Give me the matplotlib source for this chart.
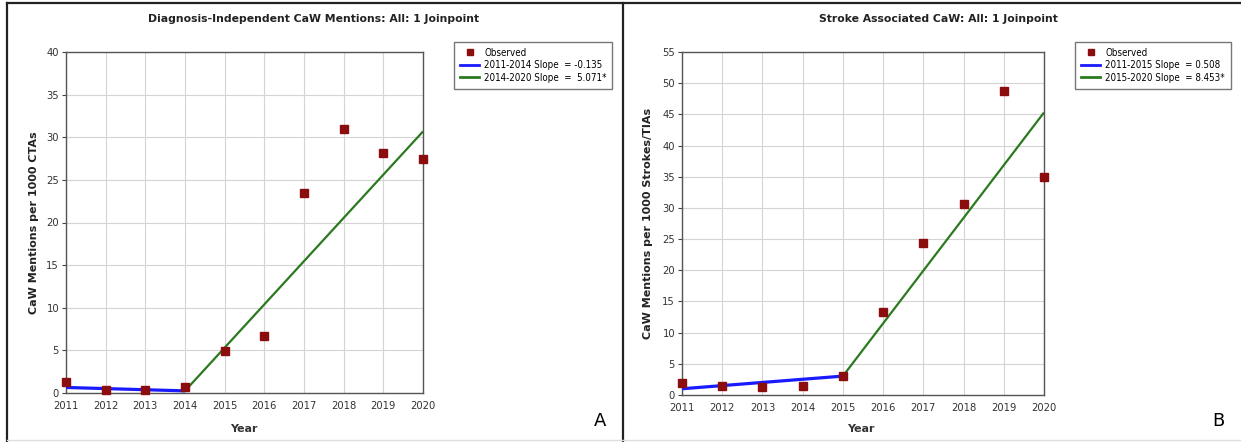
import matplotlib
matplotlib.use("Agg")
import matplotlib.pyplot as plt
from matplotlib.lines import Line2D
from matplotlib.font_manager import FontProperties

# data
years = [2011, 2012, 2013, 2014, 2015, 2016, 2017, 2018, 2019, 2020]
obs_a = [1.3, 0.4, 0.4, 0.7, 4.9, 6.7, 23.5, 31.0, 28.1, 27.4]
obs_b = [1.9, 1.5, 1.3, 1.4, 3.1, 13.3, 24.3, 30.6, 48.8, 34.9]

# joinpoint fit segments (endpoints)
fit1_a_x = [2011, 2014]
fit1_a_y = [0.65, 0.25]
fit2_a_x = [2014, 2020]
fit2_a_y = [0.25, 30.68]
fit1_b_x = [2011, 2015]
fit1_b_y = [1.0, 3.03]
fit2_b_x = [2015, 2020]
fit2_b_y = [3.03, 45.3]

labels_a = ["Observed", "2011-2014 Slope  = -0.135", "2014-2020 Slope  =  5.071*"]
labels_b = ["Observed", "2011-2015 Slope  = 0.508", "2015-2020 Slope  = 8.453*"]

narrow_tick = FontProperties(family="DejaVu Sans", stretch="condensed", size=8)
narrow_leg = FontProperties(family="DejaVu Sans", stretch="condensed", size=7)

W, H = 1241, 442
fig = plt.figure(figsize=(W / 100, H / 100), dpi=100)

def fx(px):
    return px / W

def fy(py):
    return 1 - py / H

# panel borders
fig.add_artist(Line2D([fx(7), 1], [fy(3), fy(3)], color="#222222", lw=1.6))
fig.add_artist(Line2D([fx(7), fx(7)], [fy(3), fy(441)], color="#222222", lw=1.6))
fig.add_artist(Line2D([fx(623), fx(623)], [fy(3), 0], color="#222222", lw=1.6))
fig.add_artist(Line2D([fx(7), 1], [fy(440), fy(440)], color="#dddddd", lw=1))

red = "#8b0d0d"
blue = "#1a1aff"
green = "#2b7a1f"

def panel(rect, obs, f1x, f1y, f2x, f2y, labels, ymax, title, ylabel,
          title_x, ylab_x, year_x, leg_x0, letter, letter_x):
    ax = fig.add_axes(rect)
    ax.plot(f1x, f1y, color=blue, lw=2.3, zorder=3, solid_capstyle="butt")
    ax.plot(f2x, f2y, color=green, lw=1.6, zorder=3, solid_capstyle="butt")
    ax.plot(years, obs, ls="none", marker="s", ms=6.3, color=red, zorder=4,
            clip_on=False)
    ax.set_xlim(2011, 2020)
    ax.set_ylim(0, ymax)
    ax.set_xticks(years)
    ax.set_yticks(range(0, ymax + 1, 5))
    ax.grid(True, color="#d4d4d4", lw=0.8)
    ax.set_axisbelow(True)
    for s in ax.spines.values():
        s.set_color("#555555")
        s.set_linewidth(1.0)
    ax.tick_params(axis="both", colors="#444444", length=3, width=0.8, pad=2)
    ax.tick_params(axis="x", length=0, pad=6)
    for t in ax.get_xticklabels() + ax.get_yticklabels():
        t.set_fontproperties(narrow_tick)
        t.set_color("#333333")
    fig.text(fx(title_x), fy(19), title, ha="center", va="center",
             fontsize=7.8, fontweight="bold", color="#222222")
    fig.text(fx(ylab_x), fy(223), ylabel, ha="center", va="center",
             rotation=90, fontsize=8, fontweight="bold", color="#222222")
    fig.text(fx(year_x), fy(429), "Year", ha="center", va="center",
             fontsize=8, fontweight="bold", color="#333333")
    fig.text(fx(letter_x), fy(421), letter, ha="center", va="center",
             fontsize=13, color="black")
    handles = [
        Line2D([], [], ls="none", marker="s", ms=5, color=red),
        Line2D([], [], color=blue, lw=2),
        Line2D([], [], color=green, lw=2),
    ]
    leg = fig.legend(handles, labels, loc="upper left",
                     bbox_to_anchor=(fx(leg_x0), fy(42)),
                     prop=narrow_leg,
                     frameon=True, fancybox=False, borderpad=0.6,
                     handlelength=2.0, handletextpad=0.5, labelspacing=0.25,
                     borderaxespad=0)
    leg.get_frame().set_edgecolor("#555555")
    leg.get_frame().set_linewidth(1.0)
    return ax

panel([fx(66), fy(393), fx(423) - fx(66), fy(52) - fy(393)], obs_a,
      fit1_a_x, fit1_a_y, fit2_a_x, fit2_a_y, labels_a, 40,
      "Diagnosis-Independent CaW Mentions: All: 1 Joinpoint",
      "CaW Mentions per 1000 CTAs", 314, 34, 244, 454, "A", 600)

panel([fx(682), fy(395), fx(1044) - fx(682), fy(52) - fy(395)], obs_b,
      fit1_b_x, fit1_b_y, fit2_b_x, fit2_b_y, labels_b, 55,
      "Stroke Associated CaW: All: 1 Joinpoint",
      "CaW Mentions per 1000 Strokes/TIAs", 938, 648, 861, 1075, "B", 1218)

fig.savefig("out.png", dpi=100)
